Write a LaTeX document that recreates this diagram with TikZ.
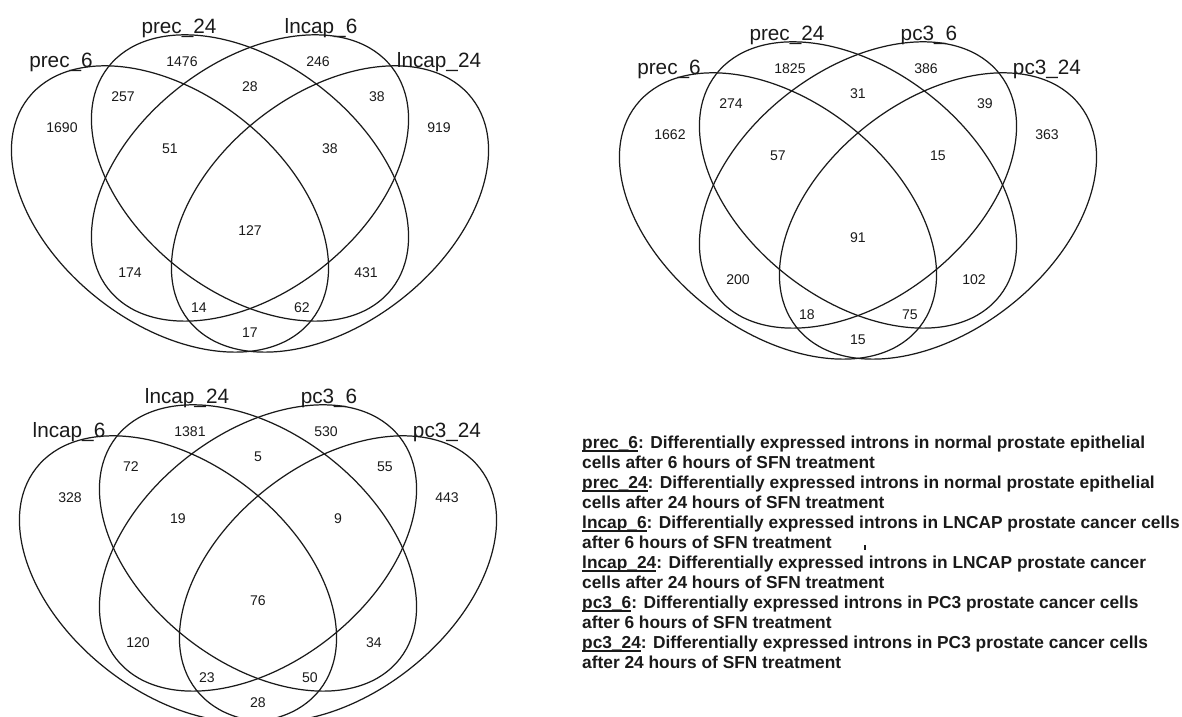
\documentclass[tikz,border=0pt]{standalone}
\usepackage{fontspec}
\setmainfont{Liberation Sans}
\usepackage{tikz}
\usetikzlibrary{positioning,shapes.geometric}
\definecolor{VennInk}{HTML}{1A1A1A}

% underlined set name in the legend
\newsavebox{\keybox}
\newcommand{\keyname}[1]{\sbox{\keybox}{#1}\rlap{\rule[-0.2em]{\wd\keybox}{0.09em}}\usebox{\keybox}}

% one four-set diagram: prefix, origin, set names, the 15 area counts
\newcommand{\quadvenn}[4]{%
  \begin{scope}[shift={#2}]
    \node[vennset, rotate=-38] (#1-s1) at (-0.80,-0.31) {};
    \node[vennset, rotate=-38] (#1-s2) at (0,0) {};
    \node[vennset, rotate=38]  (#1-s3) at (0,0) {};
    \node[vennset, rotate=38]  (#1-s4) at (0.80,-0.31) {};
    \foreach \setlab [count=\i] in {#3} {
      \pgfmathsetmacro{\lx}{{-1.89,-0.71,0.71,1.89}[\i-1]}
      \pgfmathsetmacro{\ly}{{1.16,1.50,1.50,1.16}[\i-1]}
      \node[setname] (#1-l\i) at (\lx,\ly) {\setlab};
    }
    \foreach \num [count=\i] in {#4} {
      \pgfmathsetmacro{\nx}{{-1.88,-0.68,0.68,1.89,-1.27,0,1.27,-0.80,0.80,0,-1.20,1.16,-0.51,0.52,0}[\i-1]}
      \pgfmathsetmacro{\ny}{{0.50,1.16,1.16,0.50,0.81,0.91,0.81,0.29,0.29,-0.53,-0.95,-0.95,-1.30,-1.30,-1.55}[\i-1]}
      \node[areanum] (#1-n\i) at (\nx,\ny) {\num};
    }
  \end{scope}}

\begin{document}
\begin{tikzpicture}[vennset/.style={draw=VennInk, ellipse, line width=0.35pt,
                        minimum width=3.60cm, minimum height=2.30cm, inner sep=0pt},
                    setname/.style={font=\fontsize{5.9}{7}\selectfont, text=VennInk, inner sep=0pt},
                    areanum/.style={font=\fontsize{4.0}{5}\selectfont, text=VennInk, inner sep=0pt},
                    legendtext/.style={font=\fontsize{4.93}{5.69}\selectfont\bfseries,
                        text=VennInk, align=left, inner sep=0pt}]
  \useasboundingbox (0,0) rectangle (11.82,7.17);

  \quadvenn{pr}{(2.50,5.39)}{prec\_6,prec\_24,lncap\_6,lncap\_24}
    {1690,1476,246,919,257,28,38,51,38,127,174,431,14,62,17}
  \quadvenn{pp}{(8.58,5.32)}{prec\_6,prec\_24,pc3\_6,pc3\_24}
    {1662,1825,386,363,274,31,39,57,15,91,200,102,18,75,15}
  \quadvenn{lp}{(2.58,1.69)}{lncap\_6,lncap\_24,pc3\_6,pc3\_24}
    {328,1381,530,443,72,5,55,19,9,76,120,34,23,50,28}

  \node[legendtext, anchor=north west] (legend) at (5.815,2.82)
    {\keyname{prec\_6}: Differentially expressed introns in normal prostate epithelial\\
     cells after 6 hours of SFN treatment\\
     \keyname{prec\_24}: Differentially expressed introns in normal prostate epithelial\\
     cells after 24 hours of SFN treatment\\
     \keyname{lncap\_6}: Differentially expressed introns in LNCAP prostate cancer cells\\
     after 6 hours of SFN treatment\\
     \keyname{lncap\_24}: Differentially expressed introns in LNCAP prostate cancer\\
     cells after 24 hours of SFN treatment\\
     \keyname{pc3\_6}: Differentially expressed introns in PC3 prostate cancer cells\\
     after 6 hours of SFN treatment\\
     \keyname{pc3\_24}: Differentially expressed introns in PC3 prostate cancer cells\\
     after 24 hours of SFN treatment};

  \coordinate (tick) at (8.65,1.67);
  \draw[VennInk, line width=0.3pt] (tick) -- ++(0,0.05);
\end{tikzpicture}
\end{document}
